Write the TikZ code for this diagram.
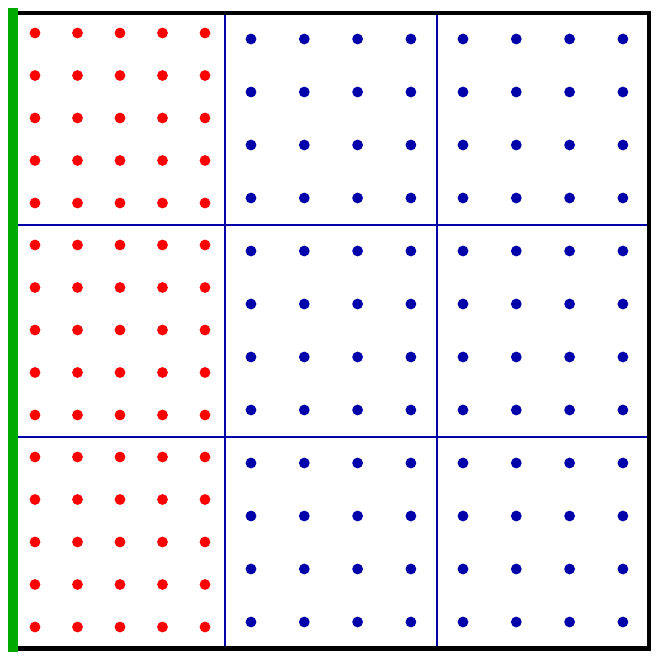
\documentclass[tikz,border=0pt]{standalone}
\definecolor{dotred}{HTML}{FF0000}
\definecolor{dotblue}{HTML}{0000AA}
\definecolor{bargreen}{HTML}{00AA00}
\begin{document}
\begin{tikzpicture}[x=1pt,y=-1pt,
  reddot/.style={fill=dotred},
  bluedot/.style={fill=dotblue},
  gridline/.style={draw=dotblue,line width=1.6pt},
  frame/.style={draw=black,line width=4.5pt}]
\useasboundingbox (0,0) rectangle (664,663);
\fill[white] (0,0) rectangle (664,663);
% grid lines
\draw[gridline] (225,13) -- (225,648);
\draw[gridline] (437,13) -- (437,648);
\draw[gridline] (13,225) -- (649,225);
\draw[gridline] (13,437) -- (649,437);
% red dots
\foreach \b in {0,1,2}{
  \foreach \i in {0,...,4}{
    \foreach \j in {0,...,4}{
      \fill[reddot] ({35+42.5*\i},{33+42.5*\j+212*\b}) circle (5.4);
    }
  }
}
% blue dots
\foreach \c in {0,1}{
  \foreach \b in {0,1,2}{
    \foreach \i in {0,...,3}{
      \foreach \j in {0,...,3}{
        \fill[bluedot] ({251+53.3*\i+212*\c},{39+53*\j+212*\b}) circle (5.4);
      }
    }
  }
}
% frame
\draw[frame] (13,13) rectangle (649,648.5);
% green bar
\fill[bargreen] (8,8) rectangle (17.5,652);
\end{tikzpicture}
\end{document}
